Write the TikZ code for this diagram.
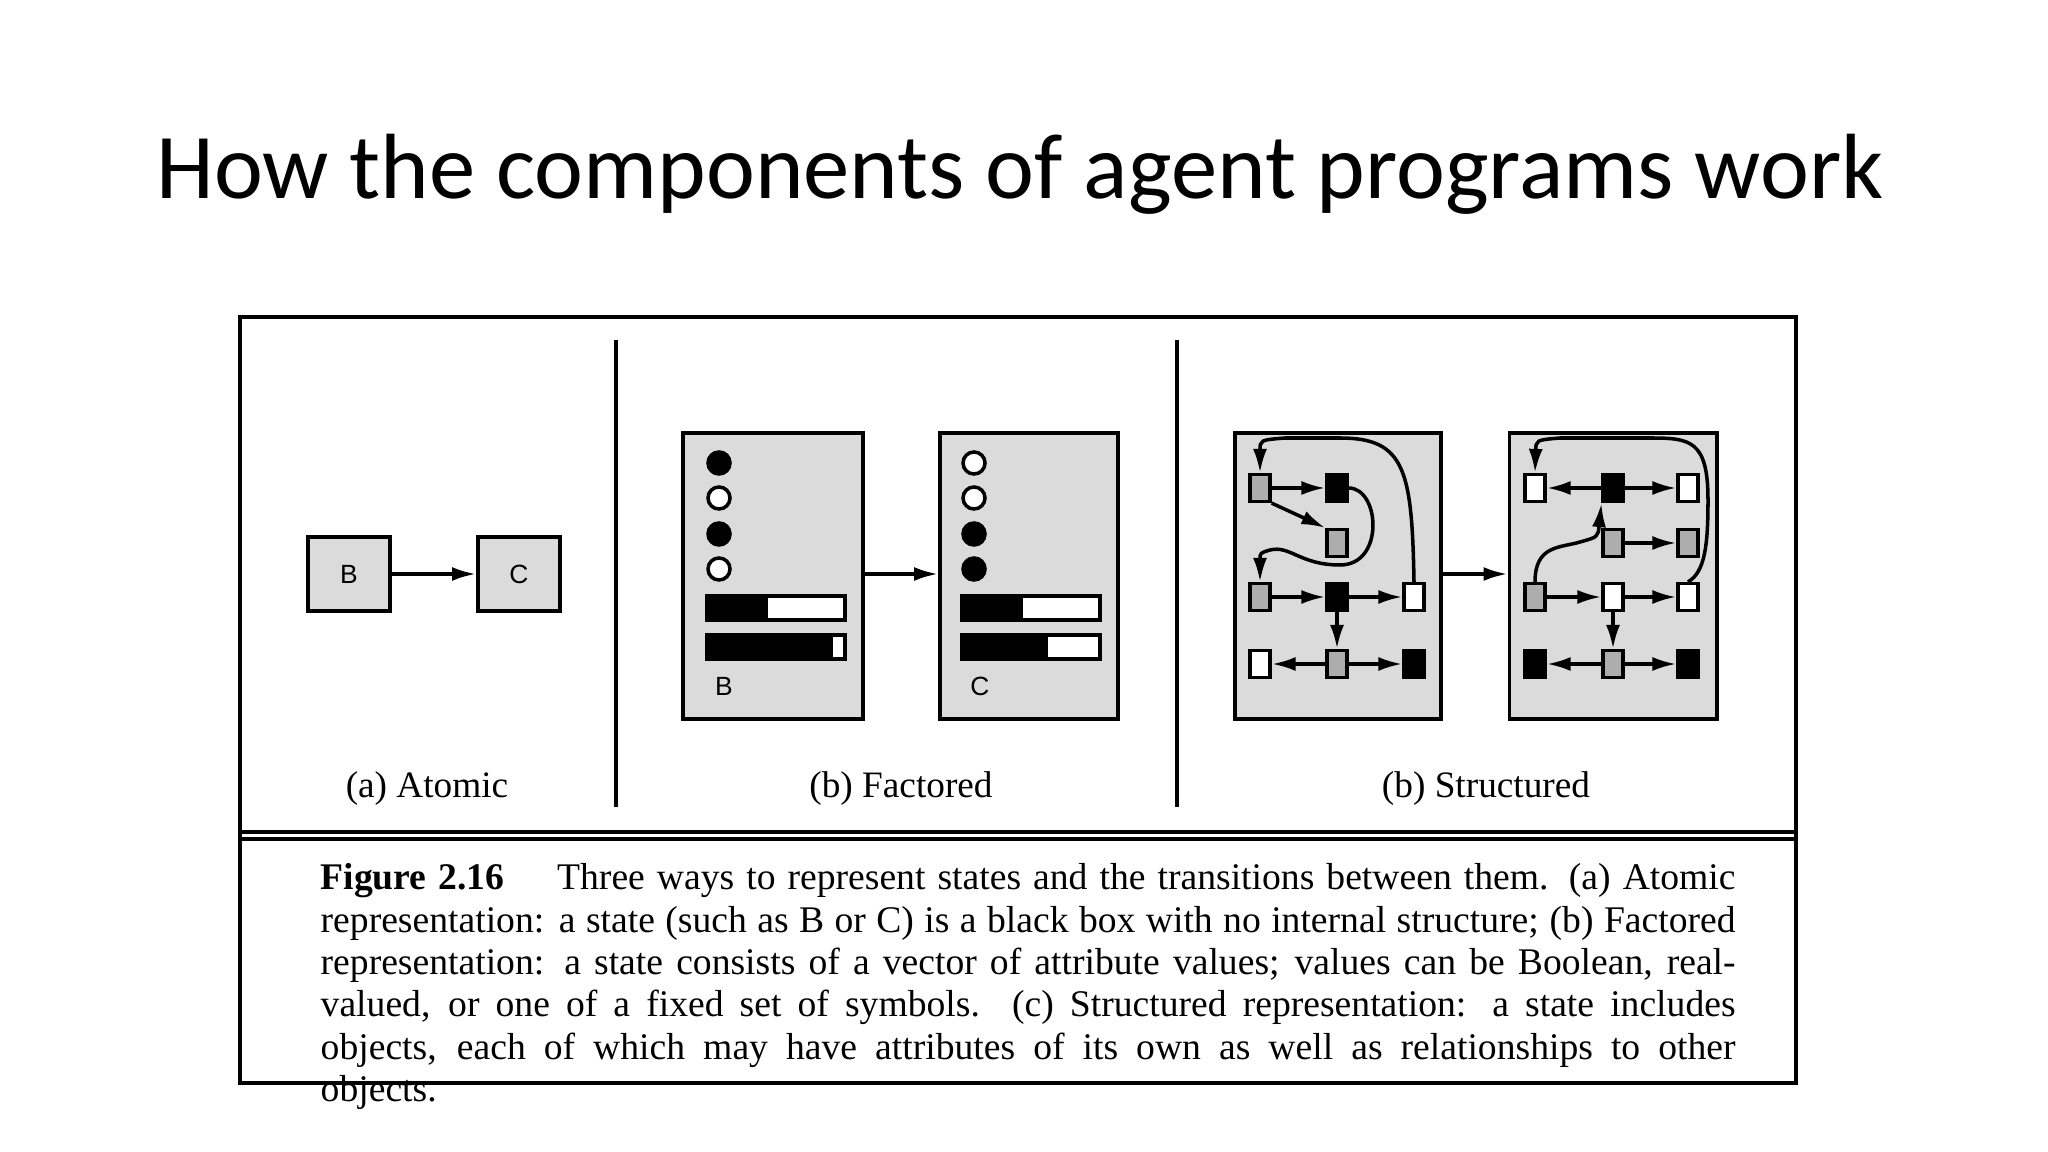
\documentclass[tikz,border=0pt]{standalone}
\usepackage{fontspec}
\setmainfont{Liberation Serif}
\newfontfamily\titlefont{Carlito}
\newfontfamily\boxfont{Liberation Sans}
\usetikzlibrary{arrows.meta}
\definecolor{panel}{gray}{0.86}
\definecolor{midgray}{gray}{0.68}
\tikzset{
  panelbox/.style={draw, line width=1.1pt, fill=panel},
  sq/.style={draw, line width=0.9pt, minimum width=0.2cm, minimum height=0.27cm, inner sep=0pt},
  sqg/.style={sq, fill=midgray},
  sqb/.style={sq, fill=black},
  sqw/.style={sq, fill=white},
  dot/.style={circle, draw, line width=1pt, minimum size=0.22cm, inner sep=0pt},
  arr/.style={line width=1pt, -{Latex[length=0.24cm,width=0.14cm]}},
  sublabel/.style={font=\fontsize{10.6pt}{12pt}\selectfont},
  boxlabel/.style={font=\boxfont\fontsize{7.5pt}{8pt}\selectfont}
}
\begin{document}
\begin{tikzpicture}[x=0.01cm,y=-0.01cm]
\useasboundingbox (0,0) rectangle (2048,1152);
\node (title) at (1020,174) {\titlefont\resizebox{17.26cm}{!}{How the components of agent programs work}};
% frame
\draw[line width=1.3pt] (240,317) rectangle (1796,1083);
\draw[line width=1pt] (240,832) -- (1796,832);
\draw[line width=1pt] (240,839) -- (1796,839);
\draw[line width=1.3pt] (616,340) -- (616,807);
\draw[line width=1.3pt] (1177,340) -- (1177,807);
% atomic
\node[panelbox, minimum width=0.82cm, minimum height=0.74cm, boxlabel] (aB) at (349,574) {B};
\node[panelbox, minimum width=0.82cm, minimum height=0.74cm, boxlabel] (aC) at (519,574) {C};
\draw[arr] (aB) -- (aC);
\node[sublabel] (la) at (427,789) {(a) Atomic};
% factored
\node[panelbox, minimum width=1.8cm, minimum height=2.86cm] (fB) at (773,576) {};
\node[panelbox, minimum width=1.78cm, minimum height=2.86cm] (fC) at (1029,576) {};
\draw[arr] (fB.east |- 0,574) coordinate (fa) -- (fC.west |- 0,574) coordinate (fb);
\foreach \n/\y/\c in {1/463/black,2/498/white,3/534/black,4/569/white}{
  \node[dot, fill=\c] (bd\n) at (719,\y) {};}
\foreach \n/\y/\c in {1/463/white,2/498/white,3/534/black,4/569/black}{
  \node[dot, fill=\c] (cd\n) at (974,\y) {};}
\draw[line width=1.2pt, fill=white] (707,596) rectangle (845,620);
\fill (707,596) rectangle (768,620);
\draw[line width=1.2pt, fill=white] (707,635) rectangle (845,659);
\fill (707,635) rectangle (833,659);
\draw[line width=1.2pt] (707,596) rectangle (845,620) (707,635) rectangle (845,659);
\draw[line width=1.2pt, fill=white] (962,596) rectangle (1100,620);
\fill (962,596) rectangle (1023,620);
\draw[line width=1.2pt, fill=white] (962,635) rectangle (1100,659);
\fill (962,635) rectangle (1048,659);
\draw[line width=1.2pt] (962,596) rectangle (1100,620) (962,635) rectangle (1100,659);
\node[boxlabel] (fBl) at (724,686) {B};
\node[boxlabel] (fCl) at (980,686) {C};
\node[sublabel] (lb) at (901,789) {(b) Factored};
% structured
\node[panelbox, minimum width=2.06cm, minimum height=2.86cm] (s1) at (1338,576) {};
\node[panelbox, minimum width=2.07cm, minimum height=2.86cm] (s2) at (1613,576) {};
\draw[arr] (s1.east |- 0,574) -- (s2.west |- 0,574);
% box 1
\node[sqg] (a11) at (1260,488) {};
\node[sqb] (a12) at (1337,488) {};
\node[sqg] (a22) at (1337,543) {};
\node[sqg] (a31) at (1260,597) {};
\node[sqb] (a32) at (1337,597) {};
\node[sqw] (a33) at (1414,597) {};
\node[sqw] (a41) at (1260,664) {};
\node[sqg] (a42) at (1337,664) {};
\node[sqb] (a43) at (1414,664) {};
\draw[arr] (a11) -- (a12);
\draw[arr] (a11.south east) -- (a22.north west);
\draw[arr] (a12.east) .. controls (1380,488) and (1385,565) .. (1340,565) .. controls (1300,565) and (1290,545) .. (1270,550) .. controls (1260,553) .. (a31.north);
\draw[arr] (a33.north) .. controls (1412,470) and (1405,438) .. (1340,438) -- (1285,438) .. controls (1260,440) .. (a11.north);
\draw[arr] (a31) -- (a32);
\draw[arr] (a32) -- (a33);
\draw[arr] (a32) -- (a42);
\draw[arr] (a42) -- (a41);
\draw[arr] (a42) -- (a43);
% box 2
\node[sqw] (b11) at (1535,488) {};
\node[sqb] (b12) at (1613,488) {};
\node[sqw] (b13) at (1688,488) {};
\node[sqg] (b22) at (1613,543) {};
\node[sqg] (b23) at (1688,543) {};
\node[sqg] (b31) at (1535,597) {};
\node[sqw] (b32) at (1613,597) {};
\node[sqw] (b33) at (1688,597) {};
\node[sqb] (b41) at (1535,664) {};
\node[sqg] (b42) at (1613,664) {};
\node[sqb] (b43) at (1688,664) {};
\draw[arr] (b12) -- (b11);
\draw[arr] (b12) -- (b13);
\draw[arr] (b22) -- (b23);
\draw[arr] (b31.north) .. controls (1535,545) and (1560,548) .. (1580,542) .. controls (1598,537) .. (b12.south west);
\draw[arr] (b33.north) .. controls (1705,572) and (1708,545) .. (1708,500) .. controls (1708,440) and (1690,438) .. (1650,438) -- (1560,438) .. controls (1536,440) .. (b11.north);
\draw[arr] (b31) -- (b32);
\draw[arr] (b32) -- (b33);
\draw[arr] (b32) -- (b42);
\draw[arr] (b42) -- (b41);
\draw[arr] (b42) -- (b43);
\node[sublabel] (lc) at (1486,789) {(b) Structured};
% caption
\node[anchor=north west, inner sep=0pt, text width=14.14cm, align=justify,
  font=\fontsize{10.7pt}{12.05pt}\selectfont] (cap) at (320,863)
{\hyphenpenalty=10000\hbadness=10000\textbf{Figure 2.16}\hspace{1.4em}Three ways to represent states and the transitions between them. (a) Atomic\linebreak representation: a state (such as B or C) is a black box with no internal structure; (b) Factored\linebreak representation: a state consists of a vector of attribute values; values can be Boolean, real-\linebreak valued, or one of a fixed set of symbols.\ \ (c) Structured representation: a state includes\linebreak objects, each of which may have attributes of its own as well as relationships to other\linebreak objects.};
\end{tikzpicture}
\end{document}
